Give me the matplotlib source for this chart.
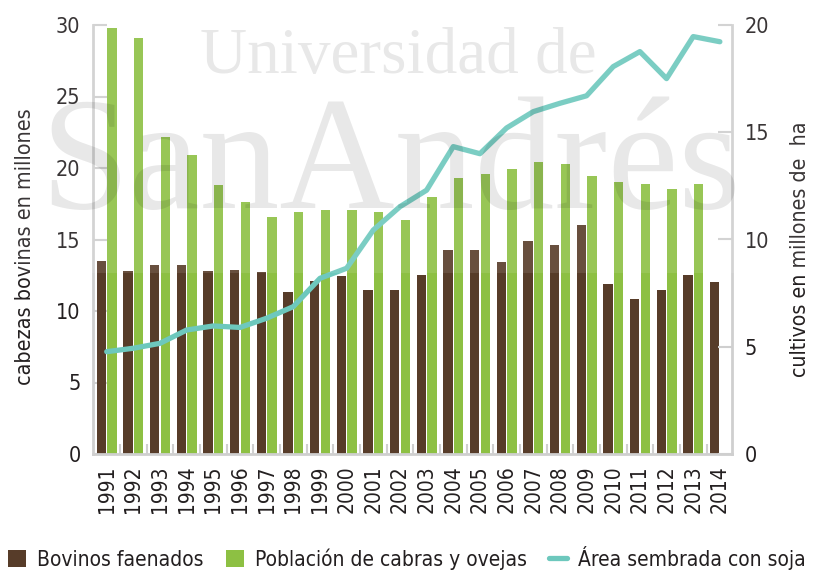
import numpy as np
import matplotlib
matplotlib.use('Agg')
import matplotlib.pyplot as plt
from matplotlib import font_manager as fm
from matplotlib.patches import Patch, Rectangle
from matplotlib.lines import Line2D

years = list(range(1991, 2015))

# cabezas bovinas faenadas (millones)
bovinos = [13.5, 12.8, 13.2, 13.2, 12.8, 12.9, 12.75, 11.3, 12.1, 12.45, 11.5, 11.45,
           12.5, 14.3, 14.3, 13.4, 14.9, 14.65, 16.0, 11.9, 10.85, 11.45, 12.55, 12.05]

# poblacion de cabras y ovejas (millones), sin dato para 2014
cabras_ovejas = [29.8, 29.1, 22.15, 20.9, 18.8, 17.65, 16.6, 16.9, 17.05, 17.05, 16.9, 16.35,
                 18.0, 19.3, 19.6, 19.95, 20.4, 20.25, 19.45, 19.05, 18.9, 18.55, 18.9]

# area sembrada con soja (millones de ha)
soja = [4.77, 4.93, 5.16, 5.78, 5.97, 5.9, 6.33, 6.87, 8.19, 8.66, 10.44, 11.53,
        12.3, 14.33, 14.0, 15.2, 15.96, 16.35, 16.7, 18.06, 18.76, 17.5, 19.46, 19.22]

BROWN = '#573c29'
GREEN = '#8dc043'
TEAL = '#6dc8bd'
SPINE = '#cfcfcf'
TXT = '#231f20'

# pick a condensed sans if there is one
names = {f.name for f in fm.fontManager.ttflist}
if 'Liberation Sans Narrow' in names:
    FONT = dict(family='Liberation Sans Narrow')
else:
    FONT = dict(family='DejaVu Sans', stretch='condensed')

W, H = 814, 575
fig = plt.figure(figsize=(W / 100, H / 100), dpi=100)

def fx(px):
    return px / W

def fy(py):
    return 1 - py / H

ax = fig.add_axes([fx(93), fy(454), (732 - 93) / W, (454 - 25) / H])
ax2 = ax.twinx()

x = np.arange(len(years))
ax.bar(x - 0.2, bovinos, width=0.35, color=BROWN, zorder=2)
ax.bar(x[:len(cabras_ovejas)] + 0.2, cabras_ovejas, width=0.35, color=GREEN, zorder=2)
ax2.plot(x, soja, color=TEAL, lw=3.8, solid_capstyle='round', solid_joinstyle='round')

ax.set_xlim(-0.514, 23.455)
ax.set_ylim(0, 30)
ax2.set_ylim(0, 20)

ax.set_xticks(x)
ax.set_xticklabels([str(y) for y in years], rotation=90, fontsize=15, color=TXT, **FONT)
ax.tick_params(axis='x', which='major', length=0, pad=8)
ax.set_xticks(x[:-1] + 0.5, minor=True)
ax.tick_params(axis='x', which='minor', direction='in', length=7, width=1.5, color=SPINE)
ax.set_axisbelow(True)

ax.set_yticks(range(0, 31, 5))
ax.tick_params(axis='y', direction='in', length=10, width=1.5, color=SPINE,
               labelsize=15.5, labelcolor=TXT, pad=9)
ax2.set_yticks(range(0, 21, 5))
ax2.tick_params(axis='y', direction='in', length=10, width=1.5, color=SPINE,
                labelsize=15.5, labelcolor=TXT, pad=9)
for lab in ax.get_yticklabels() + ax2.get_yticklabels():
    lab.set(**FONT)

for a in (ax, ax2):
    a.spines['top'].set_visible(False)
ax2.spines['left'].set_visible(False)
ax2.spines['bottom'].set_visible(False)
ax.spines['right'].set_visible(False)
for s in ('left', 'bottom'):
    ax.spines[s].set_color(SPINE)
    ax.spines[s].set_linewidth(2)
ax2.spines['right'].set_color(SPINE)
ax2.spines['right'].set_linewidth(2)

fig.text(fx(25), fy(247), 'cabezas bovinas en millones', rotation=90, ha='center', va='center',
         fontsize=15.4, color=TXT, **FONT)
fig.text(fx(800), fy(249), 'cultivos en millones de  ha', rotation=90, ha='center', va='center',
         fontsize=15.3, color=TXT, **FONT)

# watermark
fig.patches.append(Rectangle((0, fy(273)), 1, 1 - fy(273), transform=fig.transFigure,
                             facecolor='white', alpha=0.1, edgecolor='none', zorder=4))
fig.text(fx(200), fy(73), 'Universidad de', fontsize=47, family='Liberation Serif',
         color='black', alpha=0.09, va='baseline', zorder=5)
fig.text(fx(40), fy(208), 'SanAndrés', fontsize=115, family='Liberation Serif',
         color='black', alpha=0.09, va='baseline', zorder=5)

handles = [Patch(facecolor=BROWN, label='Bovinos faenados'),
           Patch(facecolor=GREEN, label='Población de cabras y ovejas'),
           Line2D([], [], color=TEAL, lw=3.8, solid_capstyle='round', label='Área sembrada con soja')]
fig.legend(handles=handles, loc='center', bbox_to_anchor=(0.5, fy(558)), ncol=3, frameon=False,
           handlelength=0.87, handleheight=0.85, handletextpad=0.53, columnspacing=1.05,
           borderpad=0, borderaxespad=0,
           prop=fm.FontProperties(size=15, **FONT), labelcolor=TXT)

fig.savefig('out.png', dpi=100)
